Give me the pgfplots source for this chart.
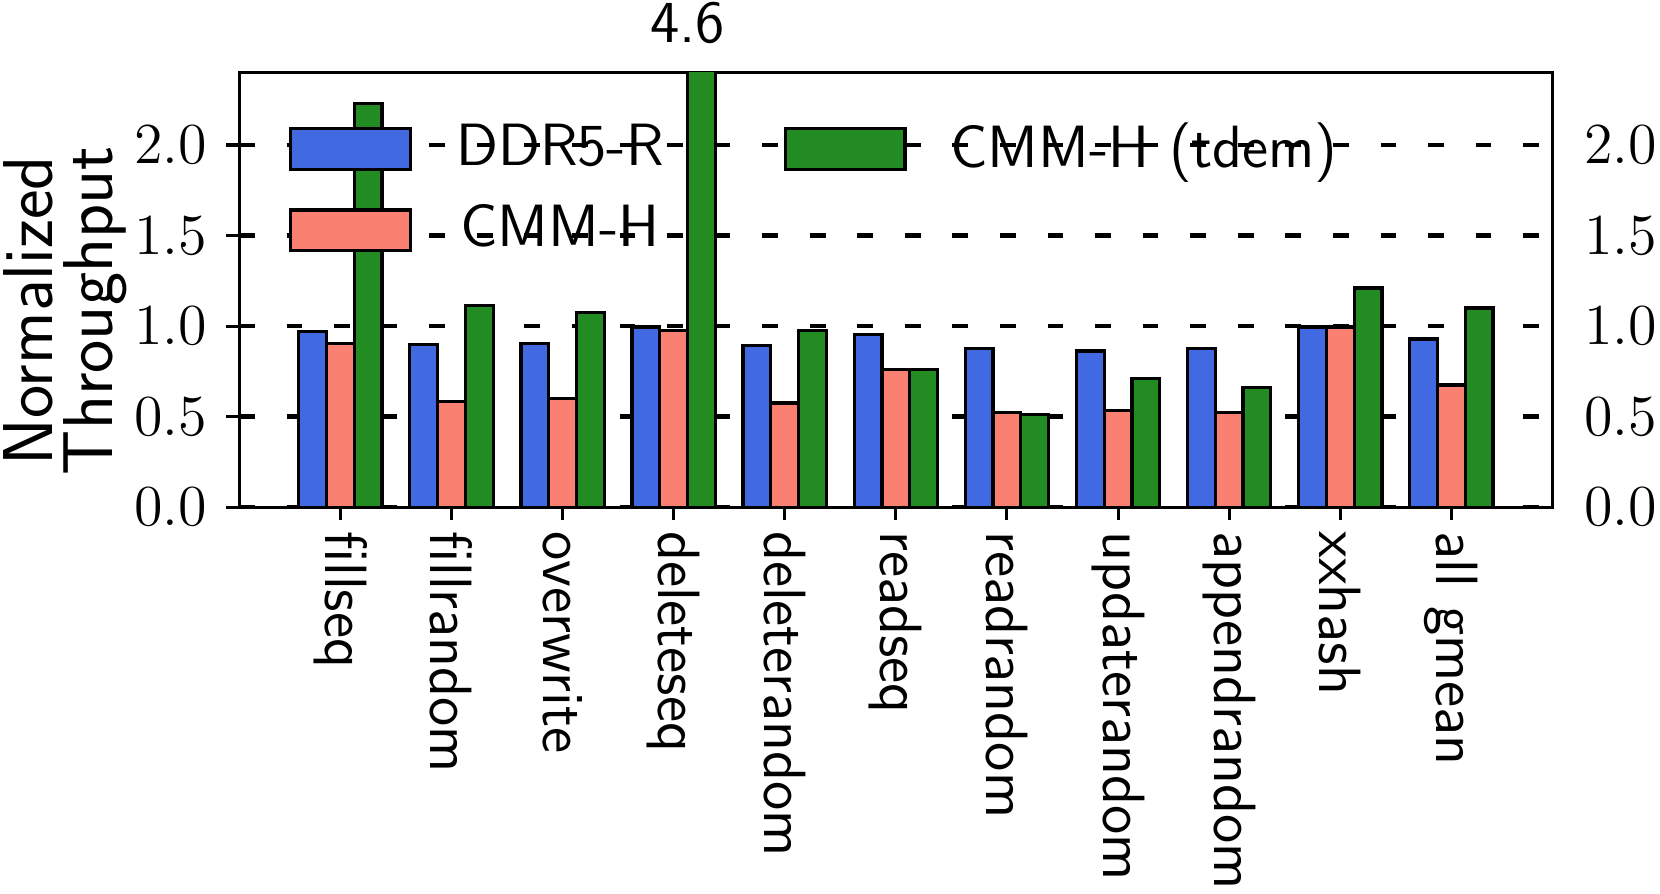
\documentclass[border=0pt]{standalone}
\usepackage{pgfplots}
\usepackage{pgfplotstable}
\pgfplotsset{compat=1.18}

\definecolor{royalblue}{RGB}{65,105,225}
\definecolor{salmon}{RGB}{250,128,114}
\definecolor{forestgreen}{RGB}{34,139,34}

% normalized throughput per benchmark
\pgfplotstableread{
x  ddr    cmm    tdem
0  0.970  0.905  2.230
1  0.898  0.585  1.115
2  0.905  0.600  1.075
3  0.995  0.975  4.600
4  0.892  0.575  0.975
5  0.952  0.760  0.760
6  0.875  0.522  0.510
7  0.862  0.535  0.710
8  0.875  0.522  0.660
9  0.995  0.995  1.210
10 0.928  0.675  1.100
}\thr

\pgfplotsset{
  base/.style={
    scale only axis, width=325.9pt, height=107.8pt,
    xmin=-0.9125, xmax=10.9125, ymin=0, ymax=2.4,
    ytick={0,0.5,1.0,1.5,2.0},
    yticklabel style={font=\fontsize{13.5}{15}\selectfont,
      /pgf/number format/fixed, /pgf/number format/fixed zerofill,
      /pgf/number format/precision=1},
    axis line style={line width=0.75pt},
    tick style={line width=0.75pt, black},
  },
  legbox/.style={legend image code/.code={
      \draw[##1, line width=0.8pt] (0pt,-5.4pt) rectangle (29.7pt,4.7pt);
      \path[draw=none, fill=none] (0pt,0pt) -- (39pt,0pt);}},
}

\begin{document}
\begin{tikzpicture}[font=\fontsize{14.8}{16}\selectfont\sffamily]
\begin{axis}[base,
  ybar, bar width=0.25,
  clip mode=individual,
  xtick={0,...,10},
  xticklabels={fillseq,fillrandom,overwrite,deleteseq,deleterandom,readseq,readrandom,updaterandom,appendrandom,xxhash,all gmean},
  xticklabel style={rotate=-90, anchor=west, inner xsep=1pt},
  xticklabel shift=1.6pt,
  yticklabel style={xshift=-1.3pt},
  tick align=outside, major tick length=3.2pt,
  xtick pos=bottom, ytick pos=left,
  ymajorgrids, grid style={black, line width=1.1pt, dash pattern=on 3.9pt off 7.9pt},
  ylabel={Normalized\\Throughput},
  ylabel style={align=center, inner sep=1pt, at={(ticklabel cs:0.452)},
    font=\fontsize{17.5}{14.8}\selectfont\sffamily},
  ylabel shift=-2.8pt,
  legend columns=2, transpose legend,
  legend style={draw=none, fill=none, inner sep=0pt,
    at={(rel axis cs:0.0376,0.906)}, anchor=north west,
    row sep=3.9pt,
    /tikz/every even column/.append style={column sep=27.7pt}},
]
\addplot[fill=royalblue, draw=black, line width=0.8pt, bar shift=-0.25, legbox] table[x=x, y=ddr] {\thr};
\addlegendentry{DDR5-R}
\addplot[fill=salmon, draw=black, line width=0.8pt, bar shift=0, legbox] table[x=x, y=cmm] {\thr};
\addlegendentry{CMM-H}
\addplot[fill=forestgreen, draw=black, line width=0.8pt, bar shift=0.25, legbox] table[x=x, y=tdem] {\thr};
\addlegendentry{CMM-H (tdem)}
\node[anchor=base, inner sep=0.6pt, yshift=7.4pt] at (axis cs:3.125,2.4) {4.6};
\end{axis}
\begin{axis}[base,
  hide x axis, axis y line*=right,
  ytick pos=right, major tick length=0pt,
  yticklabel style={inner sep=0.8pt, xshift=6.8pt},
]
\end{axis}
\end{tikzpicture}
\end{document}
